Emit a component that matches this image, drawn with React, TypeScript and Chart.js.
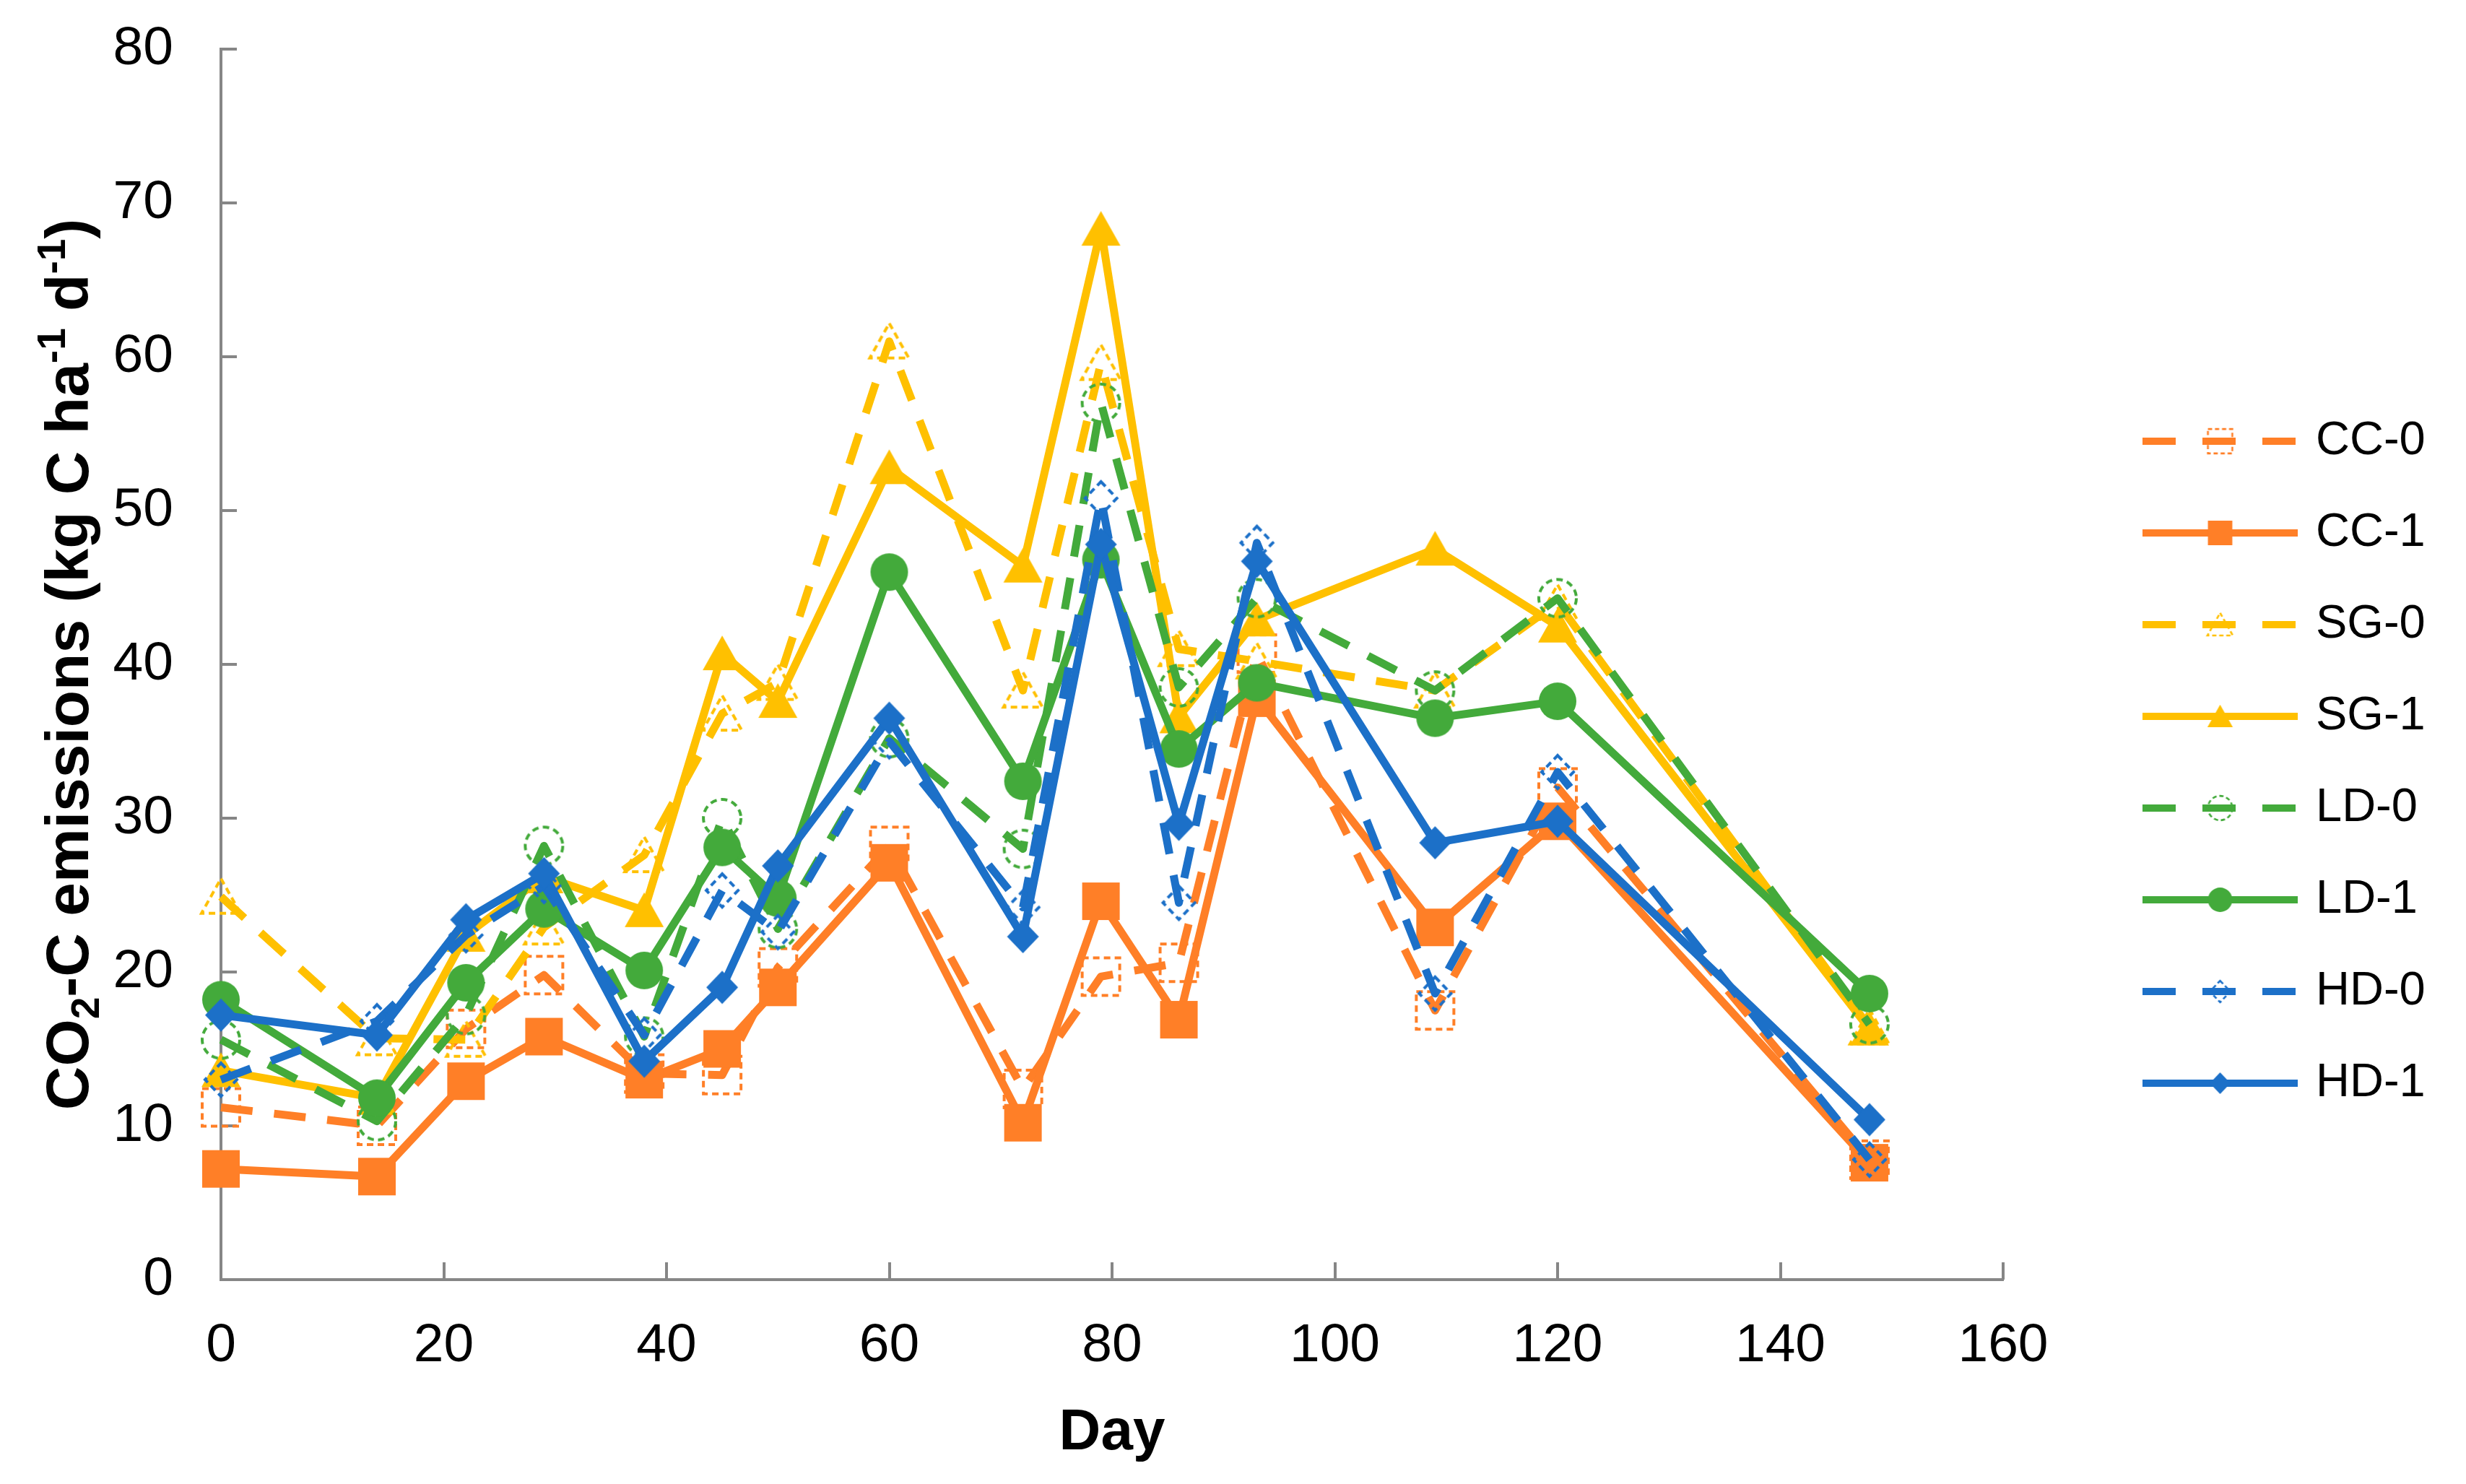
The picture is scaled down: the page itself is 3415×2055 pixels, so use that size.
import { useEffect, useRef } from "react";
import { Chart, registerables } from "chart.js";

Chart.register(...registerables);

// sampling days
const days = [0, 14, 22, 29, 38, 45, 50, 60, 72, 79, 86, 93, 109, 120, 148];

// CO2-C emissions, kg C ha-1 d-1
const cc0 = [11.2, 10.0, 16.3, 19.8, 13.4, 13.3, 20.3, 28.2, 12.4, 19.7, 20.6, 40.7, 17.5, 32.0, 7.8];
const cc1 = [7.2, 6.7, 12.9, 15.8, 13.0, 15.0, 19.0, 27.1, 10.2, 24.6, 16.9, 37.8, 22.9, 29.8, 7.6];
const sg0 = [24.9, 15.7, 15.6, 22.9, 27.6, 36.8, 38.8, 61.0, 38.3, 59.6, 41.0, 40.2, 38.3, 44.0, 16.4];
const sg1 = [13.6, 11.8, 22.4, 26.2, 24.0, 40.7, 37.6, 52.8, 46.4, 68.3, 36.6, 42.9, 47.5, 42.5, 16.3];
const ld0 = [15.6, 10.3, 17.2, 28.2, 15.8, 30.0, 22.8, 35.2, 28.0, 57.0, 38.5, 44.3, 38.3, 44.3, 16.6];
const ld1 = [18.2, 11.8, 19.3, 24.1, 20.1, 28.1, 24.8, 46.0, 32.4, 46.8, 34.5, 38.8, 36.5, 37.6, 18.6];
const hd0 = [13.0, 16.8, 22.4, 25.6, 15.9, 25.3, 22.6, 35.0, 24.2, 50.8, 24.5, 47.9, 18.6, 33.0, 7.8];
const hd1 = [17.2, 15.9, 23.4, 26.4, 14.2, 19.0, 26.9, 36.5, 22.3, 47.8, 29.6, 46.7, 28.4, 29.8, 10.4];

const ORANGE = "#FF7F27";
const YELLOW = "#FFC000";
const GREEN = "#43AA3B";
const BLUE = "#1C70C8";
const AXIS = "#868686";
const FONT = "'Liberation Sans', Arial, sans-serif";

type Shape = "square" | "triangle" | "circle" | "diamond";

interface Series {
  label: string;
  values: number[];
  color: string;
  shape: Shape;
  open: boolean;
}

const series: Series[] = [
  { label: "CC-0", values: cc0, color: ORANGE, shape: "square", open: true },
  { label: "CC-1", values: cc1, color: ORANGE, shape: "square", open: false },
  { label: "SG-0", values: sg0, color: YELLOW, shape: "triangle", open: true },
  { label: "SG-1", values: sg1, color: YELLOW, shape: "triangle", open: false },
  { label: "LD-0", values: ld0, color: GREEN, shape: "circle", open: true },
  { label: "LD-1", values: ld1, color: GREEN, shape: "circle", open: false },
  { label: "HD-0", values: hd0, color: BLUE, shape: "diamond", open: true },
  { label: "HD-1", values: hd1, color: BLUE, shape: "diamond", open: false },
];

// excel-like markers, drawn once into small canvases
function makeMarker(shape: Shape, color: string, open: boolean, scale: number) {
  const size = Math.ceil(64 * scale);
  const c = document.createElement("canvas");
  c.width = size;
  c.height = size;
  const ctx = c.getContext("2d")!;
  const m = size / 2;
  ctx.beginPath();
  if (shape === "square") {
    const h = 26 * scale;
    ctx.rect(m - h, m - h, 2 * h, 2 * h);
  } else if (shape === "triangle") {
    ctx.moveTo(m, m - 25 * scale);
    ctx.lineTo(m + 27 * scale, m + 23 * scale);
    ctx.lineTo(m - 27 * scale, m + 23 * scale);
    ctx.closePath();
  } else if (shape === "circle") {
    ctx.arc(m, m, 26 * scale, 0, Math.PI * 2);
  } else {
    ctx.moveTo(m, m - 23 * scale);
    ctx.lineTo(m + 22 * scale, m);
    ctx.lineTo(m, m + 23 * scale);
    ctx.lineTo(m - 22 * scale, m);
    ctx.closePath();
  }
  if (open) {
    ctx.setLineDash([9 * scale, 6 * scale]);
    ctx.lineWidth = Math.max(2, 4 * scale);
    ctx.strokeStyle = color;
    ctx.stroke();
  } else {
    ctx.fillStyle = color;
    ctx.fill();
  }
  return c;
}

const innerTicks = {
  id: "innerTicks",
  beforeDatasetsDraw(chart: Chart) {
    const { ctx, chartArea } = chart;
    const x = chart.scales.x;
    const y = chart.scales.y;
    ctx.save();
    ctx.strokeStyle = AXIS;
    ctx.lineWidth = 4;
    x.ticks.forEach((t) => {
      if (t.value === 0) return;
      const px = Math.round(x.getPixelForValue(t.value));
      ctx.beginPath();
      ctx.moveTo(px, chartArea.bottom);
      ctx.lineTo(px, chartArea.bottom - 24);
      ctx.stroke();
    });
    y.ticks.forEach((t) => {
      if (t.value === 0) return;
      const py = Math.round(y.getPixelForValue(t.value));
      ctx.beginPath();
      ctx.moveTo(chartArea.left, py);
      ctx.lineTo(chartArea.left + 22, py);
      ctx.stroke();
    });
    ctx.restore();
  },
};

const yTitle = {
  id: "yTitle",
  afterDraw(chart: Chart) {
    const { ctx, chartArea } = chart;
    const big = `bold 84px ${FONT}`;
    const small = `bold 55px ${FONT}`;
    const parts: [string, "n" | "sub" | "sup"][] = [
      ["CO", "n"],
      ["2", "sub"],
      ["-C emissions (kg C ha", "n"],
      ["-1", "sup"],
      [" d", "n"],
      ["-1", "sup"],
      [")", "n"],
    ];
    ctx.save();
    let total = 0;
    const widths = parts.map(([t, k]) => {
      ctx.font = k === "n" ? big : small;
      const w = ctx.measureText(t).width;
      total += w;
      return w;
    });
    ctx.translate(122, (chartArea.top + chartArea.bottom) / 2);
    ctx.rotate(-Math.PI / 2);
    ctx.fillStyle = "#000";
    ctx.textAlign = "left";
    ctx.textBaseline = "alphabetic";
    let cx = -total / 2;
    parts.forEach(([t, k], i) => {
      ctx.font = k === "n" ? big : small;
      const dy = k === "sub" ? 15 : k === "sup" ? -32 : 0;
      ctx.fillText(t, cx, dy);
      cx += widths[i];
    });
    ctx.restore();
  },
};

const App = () => {
  const canvasRef = useRef<HTMLCanvasElement | null>(null);

  useEffect(() => {
    if (!canvasRef.current) return;
    const legendMarkers = series.map((s) => makeMarker(s.shape, s.color, s.open, 0.65));

    const sideLegend = {
      id: "sideLegend",
      afterDraw(chart: Chart) {
        const { ctx, chartArea } = chart;
        const x0 = chartArea.right + 193;
        const x1 = chartArea.right + 408;
        series.forEach((s, i) => {
          const y = 611 + i * 127;
          ctx.save();
          ctx.strokeStyle = s.color;
          ctx.lineWidth = 10;
          ctx.lineCap = "butt";
          ctx.setLineDash(s.open ? [46, 37] : []);
          ctx.beginPath();
          ctx.moveTo(x0, y);
          ctx.lineTo(x1, y);
          ctx.stroke();
          ctx.setLineDash([]);
          const img = legendMarkers[i];
          ctx.drawImage(img, (x0 + x1) / 2 - img.width / 2, y - img.height / 2);
          ctx.fillStyle = "#000";
          ctx.font = `65px ${FONT}`;
          ctx.textAlign = "left";
          ctx.textBaseline = "middle";
          ctx.fillText(s.label, x1 + 25, y);
          ctx.restore();
        });
      },
    };

    const chart = new Chart(canvasRef.current, {
      type: "line",
      data: {
        datasets: series.map((s, i) => ({
          label: s.label,
          data: days.map((d, j) => ({ x: d, y: s.values[j] })),
          borderColor: s.color,
          backgroundColor: s.color,
          borderWidth: 11,
          borderDash: s.open ? [44, 30] : [],
          borderJoinStyle: "round" as const,
          pointStyle: makeMarker(s.shape, s.color, s.open, 1),
          pointRadius: 27,
          pointHoverRadius: 27,
          tension: 0,
          order: series.length - i,
          clip: false as const,
        })),
      },
      options: {
        animation: false,
        responsive: true,
        maintainAspectRatio: false,
        events: [],
        layout: { padding: { left: 0, top: 68, right: 641, bottom: 0 } },
        plugins: {
          legend: { display: false },
          tooltip: { enabled: false },
        },
        scales: {
          x: {
            type: "linear",
            min: 0,
            max: 160,
            afterFit: (s) => {
              s.height = 283;
            },
            ticks: {
              stepSize: 20,
              color: "#000",
              padding: 47,
              font: { family: FONT, size: 75 },
            },
            grid: { drawOnChartArea: false, drawTicks: false },
            border: { color: AXIS, width: 4 },
            title: {
              display: true,
              text: "Day",
              color: "#000",
              font: { family: FONT, size: 80, weight: "bold" },
              padding: { top: 0, bottom: 22 },
            },
          },
          y: {
            type: "linear",
            min: 0,
            max: 80,
            afterFit: (s) => {
              s.width = 306;
              // keep the plot top where the padding puts it
              s.paddingTop = 0;
              s.paddingBottom = 0;
            },
            ticks: {
              stepSize: 10,
              color: "#000",
              padding: 66,
              font: { family: FONT, size: 75 },
            },
            grid: { drawOnChartArea: false, drawTicks: false },
            border: { color: AXIS, width: 4 },
          },
        },
      },
      plugins: [innerTicks, yTitle, sideLegend],
    });

    return () => {
      chart.destroy();
    };
  }, []);

  return (
    <div style={{ position: "fixed", left: 0, top: 0, width: "100vw", height: "100vh", background: "#fff" }}>
      <canvas ref={canvasRef} />
    </div>
  );
};

export default App;
